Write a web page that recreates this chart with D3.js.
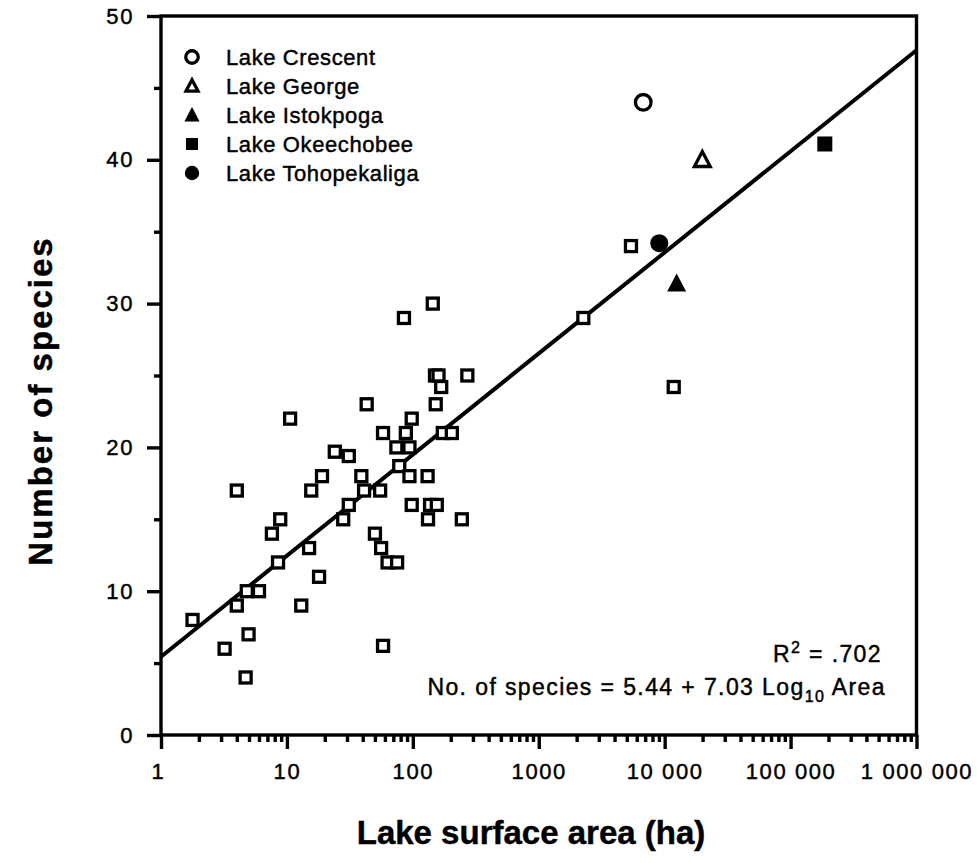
<!DOCTYPE html>
<html>
<head>
<meta charset="utf-8">
<script src="https://cdn.jsdelivr.net/npm/d3@7"></script>
<style>
  body { margin: 0; background: #fff; }
  text { font-family: "Liberation Sans", Arial, sans-serif; fill: #000; stroke: #000; stroke-width: 0.45px; }
</style>
</head>
<body>
<div id="chart-area"></div>
<script>
/*
*    lake species vs area
*/

// open squares: other lakes
var lakeArea = [144, 85, 150, 160, 271, 168, 43, 152, 10.6, 98, 58, 88, 173, 204, 74, 94,
    24, 31, 78, 19, 39, 94, 131, 4.0, 15.6, 41, 55, 31, 98, 137, 155, 132, 245, 28, 8.85,
    7.6, 50, 15, 56, 63, 75, 8.5, 18, 4.8, 6.0, 4.0, 13, 1.78, 4.96, 3.2, 58, 4.7,
    5400, 2260, 11800];
var lakeSpecies = [30, 29, 25, 25, 25, 24.2, 23, 23, 22, 22, 21, 21, 21, 21, 20, 20,
    19.7, 19.4, 18.7, 18, 18, 18, 18, 17, 17, 17, 17, 16, 16, 16, 16, 15, 15, 15, 15,
    14, 14, 13, 13, 12, 12, 12, 11, 10, 10, 9, 9, 8, 7, 6, 6.2, 4,
    34, 29, 24.2];

// named lakes
var namedLakes = ["Lake Crescent", "Lake George", "Lake Istokpoga", "Lake Okeechobee", "Lake Tohopekaliga"];
var namedArea = [6760, 19900, 12450, 187000, 9060];
var namedSpecies = [44, 40, 31.4, 41.1, 34.2];
var namedSymbol = ["openCircle", "openTriangle", "triangle", "square", "circle"];

// regression: species = 5.44 + 7.03 log10(area)
var intercept = 5.44;
var slope = 7.03;

var xTicks = [1, 10, 100, 1000, 10000, 100000, 1000000];
var xTickLabels = ["1", "10", "100", "1000", "10 000", "100 000", "1 000 000"];
var yTicks = [0, 10, 20, 30, 40, 50];

var width = 977;
var height = 863;

var svg = d3.select("#chart-area").append("svg")
    .attr("width", width)
    .attr("height", height);

var x = d3.scaleLog()
    .domain([1, 1000000])
    .range([161, 916.5]);

var y = d3.scaleLinear()
    .domain([0, 50])
    .range([735, 16]);

var axisW = 3.4;

// minor ticks on x (2..9 of each decade)
var xMinor = [];
for (var e = 0; e < 6; e++) {
    for (var m = 2; m < 10; m++) {
        xMinor.push(m * Math.pow(10, e));
    }
}

var bottomAxis = d3.axisBottom(x)
    .tickValues(xTicks)
    .tickSize(14)
    .tickPadding(14)
    .tickFormat((d, i) => { return xTickLabels[i]; });

var gx = svg.append("g")
    .attr("class", "bottom axis")
    .attr("transform", "translate(0, " + y(0) + ")")
    .call(bottomAxis);

gx.selectAll(".tick").filter((d, i) => { return i == 0; }).select("text")
    .attr("dx", "-3");

svg.append("g")
    .attr("class", "bottom minor")
    .attr("transform", "translate(0, " + y(0) + ")")
    .call(d3.axisBottom(x).tickValues(xMinor).tickSize(7).tickFormat(""));

var leftAxis = d3.axisLeft(y)
    .tickValues(yTicks)
    .tickSize(14)
    .tickPadding(13);

svg.append("g")
    .attr("class", "left axis")
    .attr("transform", "translate(" + x(1) + ", 0)")
    .call(leftAxis);

svg.append("g")
    .attr("class", "left minor")
    .attr("transform", "translate(" + x(1) + ", 0)")
    .call(d3.axisLeft(y).tickValues([5, 15, 25, 35, 45]).tickSize(7).tickFormat(""));

svg.selectAll(".axis path, .minor path").remove();
svg.selectAll(".axis line, .minor line")
    .attr("stroke", "#000")
    .attr("stroke-width", axisW);
svg.selectAll(".axis text")
    .attr("font-size", "22px")
    .attr("letter-spacing", "1.6px")
    .attr("fill", "#000");
svg.selectAll(".bottom.axis text").attr("dy", "0.71em");

// frame
svg.append("rect")
    .attr("x", x(1))
    .attr("y", y(50))
    .attr("width", x(1000000) - x(1))
    .attr("height", y(0) - y(50))
    .attr("fill", "none")
    .attr("stroke", "#000")
    .attr("stroke-width", axisW);

// regression line
var g = svg.append("g");
g.append("line")
    .attr("x1", x(1))
    .attr("y1", y(intercept + slope * 0))
    .attr("x2", x(1000000))
    .attr("y2", y(intercept + slope * 6))
    .attr("stroke", "#000")
    .attr("stroke-width", 4);

// open squares
var lakes = lakeArea.map((a, i) => { return {area: a, species: lakeSpecies[i]}; });
var sq = 11;
g.selectAll("rect.lake")
    .data(lakes)
    .enter()
    .append("rect")
    .attr("class", "lake")
    .attr("x", (d) => { return x(d.area) - sq / 2; })
    .attr("y", (d) => { return y(d.species) - sq / 2; })
    .attr("width", sq)
    .attr("height", sq)
    .attr("fill", "#fff")
    .attr("stroke", "#000")
    .attr("stroke-width", 3.3);

function drawSymbol(sel, kind, cx, cy, s) {
    if (kind == "openCircle") {
        sel.append("circle").attr("cx", cx).attr("cy", cy).attr("r", 7.8 * s)
            .attr("fill", "#fff").attr("stroke", "#000").attr("stroke-width", 3.3);
    } else if (kind == "circle") {
        sel.append("circle").attr("cx", cx).attr("cy", cy).attr("r", 9 * s)
            .attr("fill", "#000");
    } else if (kind == "square") {
        var h = 7.5 * s;
        sel.append("rect").attr("x", cx - h).attr("y", cy - h)
            .attr("width", 2 * h).attr("height", 2 * h).attr("fill", "#000");
    } else {
        var w = 9.5 * s;
        var p = sel.append("polygon");
        if (kind == "openTriangle") {
            var w2 = w - 1.6;
            p.attr("points", [[cx, cy - w2 * 1.05], [cx + w2, cy + w2 * 0.85], [cx - w2, cy + w2 * 0.85]]
                .map((q) => q.join(",")).join(" "))
                .attr("fill", "#fff").attr("stroke", "#000").attr("stroke-width", 3.3)
                .attr("stroke-linejoin", "miter");
        } else {
            p.attr("points", [[cx, cy - w * 1.05], [cx + w, cy + w * 0.85], [cx - w, cy + w * 0.85]]
                .map((q) => q.join(",")).join(" "))
                .attr("fill", "#000");
        }
    }
}

namedLakes.forEach((name, i) => {
    drawSymbol(g, namedSymbol[i], x(namedArea[i]), y(namedSpecies[i]), 1);
});

// legend
var legend = svg.append("g").attr("class", "legend");
namedLakes.forEach((name, i) => {
    var ly = 57 + i * 29;
    drawSymbol(legend, namedSymbol[i], 192, ly, 0.8);
    legend.append("text")
        .attr("x", 226)
        .attr("y", ly + 8)
        .attr("font-size", "22px")
        .attr("letter-spacing", "0.6px")
        .text(name);
});

// stats text
var r2 = svg.append("text")
    .attr("x", 882)
    .attr("y", 662)
    .attr("font-size", "23px")
    .attr("letter-spacing", "1.4px")
    .attr("text-anchor", "end");
r2.append("tspan").text("R");
r2.append("tspan").attr("dy", -9).attr("font-size", "16px").text("2");
r2.append("tspan").attr("dy", 9).text(" = .702");

var eq = svg.append("text")
    .attr("x", 886)
    .attr("y", 695)
    .attr("font-size", "23px")
    .attr("letter-spacing", "1.4px")
    .attr("text-anchor", "end");
eq.append("tspan").text("No. of species = 5.44 + 7.03 Log");
eq.append("tspan").attr("dy", 7).attr("font-size", "16px").text("10");
eq.append("tspan").attr("dy", -7).text(" Area");

// axis titles
svg.append("text")
    .attr("x", 531)
    .attr("y", 844)
    .attr("font-size", "33px")
    .attr("font-weight", "bold")
    .attr("text-anchor", "middle")
    .text("Lake surface area (ha)");

svg.append("text")
    .attr("transform", "translate(52, 401) rotate(-90)")
    .attr("font-size", "33px")
    .attr("font-weight", "bold")
    .attr("letter-spacing", "2px")
    .attr("text-anchor", "middle")
    .text("Number of species");
</script>
</body>
</html>
